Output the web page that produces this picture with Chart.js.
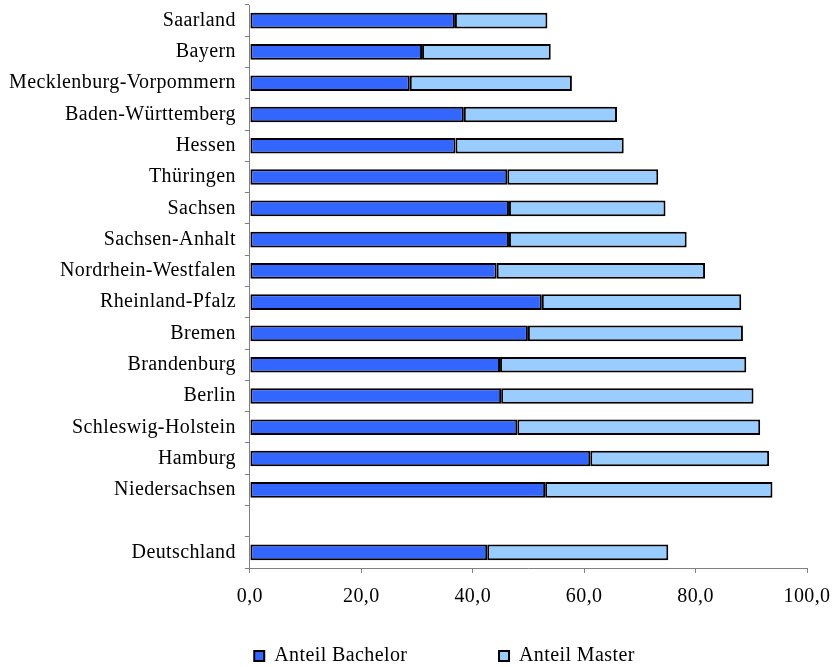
<!DOCTYPE html>
<html>
<head>
<meta charset="utf-8">
<script src="https://cdn.jsdelivr.net/npm/chart.js@4.4.0/dist/chart.umd.min.js"></script>
<style>
  body { margin: 0; background: #fff; }
</style>
</head>
<body>
<canvas id="chart" width="833" height="667"></canvas>
<script>
const laender = [
  "Saarland", "Bayern", "Mecklenburg-Vorpommern", "Baden-Württemberg",
  "Hessen", "Thüringen", "Sachsen", "Sachsen-Anhalt", "Nordrhein-Westfalen",
  "Rheinland-Pfalz", "Bremen", "Brandenburg", "Berlin", "Schleswig-Holstein",
  "Hamburg", "Niedersachsen", "", "Deutschland"
];
const anteilBachelor = [
  36.8, 30.9, 28.7, 38.4, 36.9, 46.2, 46.5, 46.5, 44.3,
  52.4, 49.9, 44.9, 45.1, 48.0, 61.1, 53.0, null, 42.6
];
const anteilMaster = [
  16.6, 23.1, 29.1, 27.5, 30.2, 27.1, 28.1, 31.9, 37.4,
  35.8, 38.6, 44.2, 45.3, 43.6, 32.1, 40.8, null, 32.5
];
const xTicks = [0, 20, 40, 60, 80, 100];

const font = { family: "'Liberation Serif', 'Times New Roman', serif", size: 20 };

// canvas has no letter-spacing option in Chart.js, set it on the context;
// also nudge the legend to where the original has it
const tweaks = {
  id: "tweaks",
  beforeUpdate(chart) {
    chart.ctx.letterSpacing = "0.4px";
  },
  afterLayout(chart) {
    const lg = chart.legend;
    lg.left += 41;
    lg.right += 41;
    lg.top += 9;
    lg.bottom += 9;
  },
};

new Chart(document.getElementById("chart"), {
  type: "bar",
  data: {
    labels: laender,
    datasets: [
      {
        label: "Anteil Bachelor",
        data: anteilBachelor,
        backgroundColor: "#3366FF",
        borderColor: "#000",
        borderWidth: 2,
        borderSkipped: false,
      },
      {
        label: "Anteil Master",
        data: anteilMaster,
        backgroundColor: "#99CCFF",
        borderColor: "#000",
        borderWidth: 2,
        borderSkipped: false,
      },
    ],
  },
  options: {
    indexAxis: "y",
    responsive: false,
    animation: false,
    datasets: {
      bar: { categoryPercentage: 0.5, barPercentage: 1 },
    },
    layout: { padding: { top: 5, right: 26, left: 0, bottom: 0 } },
    scales: {
      x: {
        stacked: true,
        min: 0,
        max: 100,
        afterBuildTicks: (axis) => {
          axis.ticks = xTicks.map((v) => ({ value: v }));
        },
        afterFit: (axis) => {
          axis.paddingRight = 0;
        },
        grid: { drawOnChartArea: false, tickLength: 5, color: "#808080" },
        border: { color: "#808080" },
        ticks: {
          font: font,
          color: "#000",
          padding: 12,
          callback: (v) => v.toFixed(1).replace(".", ","),
        },
      },
      y: {
        stacked: true,
        afterFit: (axis) => {
          axis.paddingTop = 0;
          axis.paddingBottom = 0;
        },
        grid: { drawOnChartArea: false, tickLength: 5, color: "#808080" },
        border: { color: "#808080" },
        ticks: { font: font, color: "#000", padding: 9, autoSkip: false },
      },
    },
    plugins: {
      tooltip: { enabled: false },
      legend: {
        position: "bottom",
        labels: {
          font: font,
          color: "#000",
          boxWidth: 10,
          boxHeight: 10,
          padding: 16,
          generateLabels: (chart) => {
            const items = Chart.defaults.plugins.legend.labels.generateLabels(chart);
            items[0].text += "\u00a0".repeat(14);
            return items;
          },
        },
      },
    },
  },
  plugins: [tweaks],
});
</script>
</body>
</html>
